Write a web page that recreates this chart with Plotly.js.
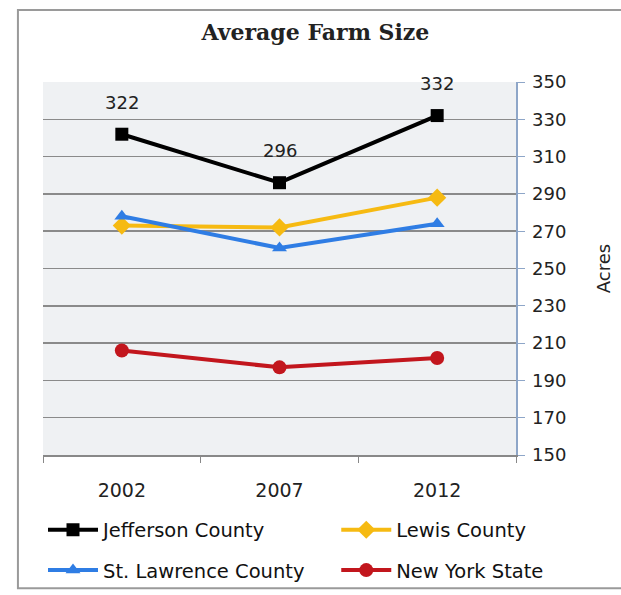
<!DOCTYPE html>
<html>
<head>
<meta charset="utf-8">
<script src="https://cdn.plot.ly/plotly-3.0.1.min.js"></script>
<style>html,body{margin:0;padding:0;background:#fff;}#chart{width:621px;height:595px;}</style>
</head>
<body>
<div id="chart"></div>
<script>
const years = ['2002', '2007', '2012'];
const jefferson = [322, 296, 332];
const lewis = [273, 272, 288];
const stLawrence = [278, 261, 274];
const nyState = [206, 197, 202];
const yTicks = [150, 170, 190, 210, 230, 250, 270, 290, 310, 330, 350];

const tickFont = {family: 'DejaVu Sans', size: 18, color: '#222'};

const traces = [
  {name: 'Jefferson County', x: years, y: jefferson, type: 'scatter', mode: 'lines+markers',
   line: {color: '#000000', width: 4}, marker: {symbol: 'square', size: 13, color: '#000000'},
   legend: 'legend', legendgroup: 'a'},
  {name: 'Lewis County', x: years, y: lewis, type: 'scatter', mode: 'lines+markers',
   line: {color: '#F6BA12', width: 4}, marker: {symbol: 'diamond', size: 14, color: '#F6BA12'},
   legend: 'legend2', legendgroup: 'b'},
  {name: 'St. Lawrence County', x: years, y: stLawrence, type: 'scatter', mode: 'lines+markers',
   line: {color: '#2F7DE4', width: 4}, marker: {symbol: 'triangle-up', size: 13, color: '#2F7DE4'},
   legend: 'legend', legendgroup: 'c'},
  {name: 'New York State', x: years, y: nyState, type: 'scatter', mode: 'lines+markers',
   line: {color: '#C2161D', width: 4}, marker: {symbol: 'circle', size: 14, color: '#C2161D'},
   legend: 'legend2', legendgroup: 'd'}
];

const annotations = years.map(function(yr, i) {
  return {
    x: i, y: jefferson[i], xref: 'x', yref: 'y', text: String(jefferson[i]),
    showarrow: false, yshift: 32, font: {family: 'DejaVu Sans', size: 18, color: '#222'}
  };
});

const legendCommon = {
  orientation: 'v', bgcolor: 'rgba(0,0,0,0)', borderwidth: 0,
  font: {family: 'DejaVu Sans', size: 19.5, color: '#111'},
  tracegroupgap: 12, itemwidth: 50, xanchor: 'left', yanchor: 'top'
};

const layout = {
  width: 621, height: 595,
  margin: {l: 43, r: 105, t: 82, b: 140, autoexpand: false},
  paper_bgcolor: '#ffffff',
  plot_bgcolor: '#eff1f3',
  title: {text: 'Average Farm Size', x: 0.508, xanchor: 'center', y: 0.946, yanchor: 'middle',
          font: {family: 'DejaVu Serif', size: 22, color: '#222', weight: 'bold'}},
  xaxis: {type: 'category', tickson: 'boundaries', ticks: 'outside', ticklen: 6, tickcolor: '#888',
          showline: true, linecolor: '#888', linewidth: 1.5, showgrid: false,
          tickfont: {family: 'DejaVu Sans', size: 19, color: '#222'}, ticklabelstandoff: 18,
          range: [-0.5, 2.5], fixedrange: true, automargin: false},
  yaxis: {side: 'right', range: [150, 350], tickvals: yTicks, ticks: 'outside', ticklen: 7,
          tickcolor: '#8ea6c8', showline: true, linecolor: '#8ea6c8', linewidth: 1.5,
          showgrid: true, gridcolor: '#8a8a8a', gridwidth: 1.5, zeroline: false,
          tickfont: tickFont, ticklabelstandoff: 4, automargin: false,
          title: {text: 'Acres', font: {family: 'DejaVu Sans', size: 18, color: '#222'}, standoff: 32}},
  showlegend: true,
  legend: Object.assign({x: 0.0, y: -0.149}, legendCommon),
  legend2: Object.assign({x: 0.62, y: -0.149}, legendCommon),
  annotations: annotations,
  shapes: [
    {type: 'rect', xref: 'paper', yref: 'paper', x0: -0.053, x1: 1.25, y0: -0.357, y1: 1.193,
     line: {color: '#9a9a9a', width: 2}, fillcolor: 'rgba(0,0,0,0)', layer: 'below'}
  ]
};

Plotly.newPlot('chart', traces, layout, {displayModeBar: false, staticPlot: true});
</script>
</body>
</html>
